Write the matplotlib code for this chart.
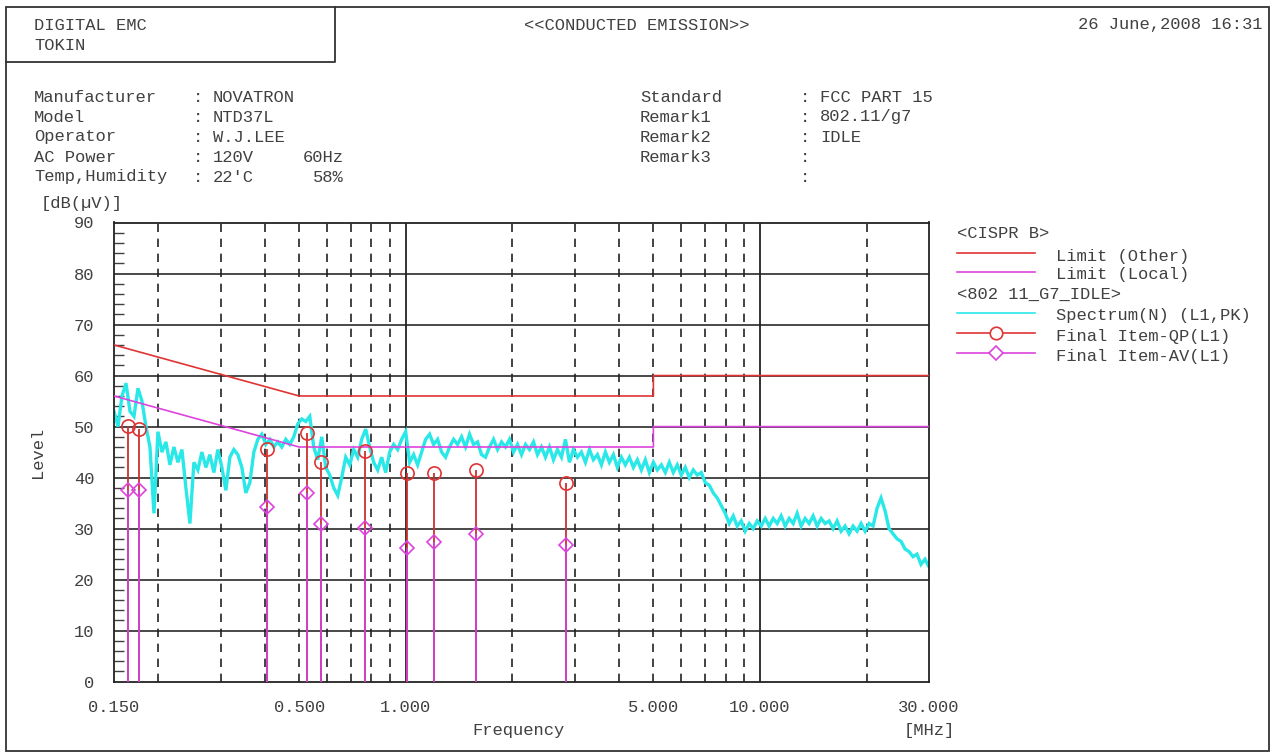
"""Conducted emission plot (FCC part 15, CISPR B limits) redrawn from a
receiver printout: spectrum trace, limit lines and final QP/AV readings.
"""

import numpy as np
import matplotlib
matplotlib.use('Agg')
import matplotlib.pyplot as plt
from matplotlib.lines import Line2D
from matplotlib.patches import Rectangle

# Limit lines (MHz, dBuV).
limit_freq = [0.15, 0.5, 5.0, 5.0, 30.0]
limit_other = [66, 56, 56, 60, 60]
limit_local = [56, 46, 46, 50, 50]

# Final measurements (MHz, dBuV).
final_freq = [0.164, 0.176, 0.406, 0.525, 0.578, 0.769, 1.008, 1.200, 1.580, 2.830]
final_qp = [50.1, 49.5, 45.6, 48.8, 43.0, 45.3, 40.9, 40.9, 41.4, 38.9]
final_av = [37.6, 37.6, 34.3, 36.9, 30.9, 30.1, 26.3, 27.4, 28.9, 26.8]

# Peak spectrum (205 points, log spaced 0.15 - 30 MHz).
spectrum_level = [
    53, 50, 56, 58.5, 53, 52, 57.5, 55, 50, 46,
    33, 49, 45, 47, 42.5, 46, 43, 45.5, 38, 31,
    43, 41.5, 45, 42, 44.5, 41, 45.5, 42, 37.5, 44,
    45.5, 44.5, 42, 37, 39, 45, 47.5, 48.5, 46.5, 47.5,
    46, 47, 46, 47.5, 46.5, 48, 50.5, 51.5, 51, 52,
    46, 43.5, 48, 42, 40.5, 38, 36.5, 40, 44, 42.5,
    45.5, 44, 47.5, 49.5, 46, 43, 41.5, 44, 41, 45,
    46.5, 45.5, 47.5, 49, 43, 44.5, 42.5, 45, 47.5, 48.5,
    46.5, 47.5, 45, 44, 46, 47.5, 46.5, 48, 46, 48.5,
    46.5, 47, 44.5, 44, 46, 47.5, 45.5, 47, 46, 47.5,
    45, 46.5, 44.5, 46.5, 45.5, 47, 44.5, 46, 44, 46,
    43.5, 45.5, 44, 47.5, 43, 45.5, 44, 45, 43, 45.5,
    43.5, 44.5, 42.5, 45, 43, 44.5, 42, 44, 42.5, 44,
    42, 43.5, 41.5, 43.5, 41, 43, 41.5, 42.5, 41, 43,
    41, 42.5, 40.5, 42, 40, 41.5, 40.5, 41, 39, 38.5,
    37, 36, 34.5, 33, 31, 32.5, 30.5, 31.5, 29.5, 31,
    30, 31.5, 30.5, 32, 30.5, 32, 31, 32.5, 30.5, 32,
    31, 33, 30.5, 32, 31, 32.5, 30.5, 32, 31, 31.5,
    30, 31.5, 29.5, 30.5, 29, 30.5, 29.5, 31, 29.5, 31,
    30.5, 34, 36, 33.5, 30, 29, 28, 27.5, 26, 25.5,
    24.5, 25, 23, 24, 22.5,
]
spectrum_freq = np.geomspace(0.15, 30.0, len(spectrum_level))

# Header and legend text.
info_left = [('Manufacturer', 'NOVATRON'), ('Model', 'NTD37L'),
             ('Operator', 'W.J.LEE'), ('AC Power', '120V'),
             ('Temp,Humidity', "22'C")]
info_right = [('Standard', 'FCC PART 15'), ('Remark1', '802.11/g7'),
              ('Remark2', 'IDLE'), ('Remark3', ''), ('', '')]
y_ticks = [0, 10, 20, 30, 40, 50, 60, 70, 80, 90]
x_ticks = [0.15, 0.5, 1.0, 5.0, 10.0, 30.0]
x_ticklabels = ['0.150', '0.500', '1.000', '5.000', '10.000', '30.000']
dashed_freqs = [0.2, 0.3, 0.4, 0.5, 0.6, 0.7, 0.8, 0.9,
                2, 3, 4, 5, 6, 7, 8, 9, 20]

RED = '#e03434'
MAGENTA = '#dd44dd'
CYAN = '#2ae8e8'
TXT = '#404040'
W, H = 1274, 756


def fx(px):
    return px / W


def fy(py):
    return 1 - py / H


plt.rcParams['font.family'] = ['Liberation Mono', 'DejaVu Sans Mono']
plt.rcParams['font.size'] = 12.3

fig = plt.figure(figsize=(12.74, 7.56), dpi=100)
ax = fig.add_axes([fx(114), fy(681.7), fx(929) - fx(114),
                   fy(222.5) - fy(681.7)])

# Grid.
for y in y_ticks[1:-1]:
    ax.axhline(y, color='#3a3a3a', lw=1.3, zorder=1)
for f in dashed_freqs:
    ax.axvline(f, color='#222222', lw=1.2, ls=(0, (5, 4)), zorder=1)
for f in [1.0, 10.0]:
    ax.axvline(f, color='#222222', lw=1.3, zorder=1)

# Traces.
ax.plot(spectrum_freq, spectrum_level, color=CYAN, lw=2.4, zorder=2,
        solid_joinstyle='miter')
ax.plot(limit_freq, limit_other, color=RED, lw=1.2, zorder=3)
ax.plot(limit_freq, limit_local, color=MAGENTA, lw=1.2, zorder=3)

ax.vlines(final_freq, 0, final_qp, color='#cc3030', lw=1.3, zorder=4)
ax.vlines(final_freq, 0, final_av, color='#d040d0', lw=1.3, zorder=5)
ax.plot(final_freq, final_qp, 'o', ms=9.5, mfc='none', mec=RED, mew=1.2,
        zorder=6)
ax.plot(final_freq, final_av, 'D', ms=7.5, mfc='none', mec=MAGENTA,
        mew=1.2, zorder=6)

ax.set_xscale('log')
ax.set_xlim(0.15, 30)
ax.set_ylim(0, 90)
ax.set_xticks(x_ticks)
ax.set_xticklabels(x_ticklabels)
ax.xaxis.set_minor_locator(matplotlib.ticker.NullLocator())
ax.set_yticks(y_ticks)
ax.set_yticks(np.arange(0, 91, 2), minor=True)
ax.tick_params(axis='x', length=0, pad=13, colors=TXT)
ax.tick_params(axis='y', which='both', direction='in', length=7,
               width=1.0, pad=14, colors=TXT)
ax.tick_params(axis='y', which='major', length=0)
for s in ax.spines.values():
    s.set_color('#222222')
    s.set_linewidth(1.3)

# Axis titles.
fig.text(fx(518), fy(731), 'Frequency', ha='center', va='center', color=TXT)
fig.text(fx(929), fy(731), '[MHz]', ha='center', va='center', color=TXT)
fig.text(fx(38), fy(452), 'Level', ha='center', va='center', rotation=90,
         color=TXT)
fig.text(fx(82), fy(203), '[dB(µV)]', ha='center', va='center', color=TXT)

# Frame and header box.
fig.add_artist(Rectangle((fx(6), fy(751)), fx(1269) - fx(6),
                         fy(7) - fy(751), fill=False, ec='#333333', lw=1.3,
                         transform=fig.transFigure))
fig.add_artist(Line2D([fx(6), fx(335), fx(335)], [fy(62), fy(62), fy(7)],
                      color='#333333', lw=1.3, transform=fig.transFigure))

fig.text(fx(34), fy(25), 'DIGITAL EMC', va='center', color=TXT)
fig.text(fx(34), fy(45), 'TOKIN', va='center', color=TXT)
fig.text(fx(637), fy(25), '<<CONDUCTED EMISSION>>', ha='center',
         va='center', color=TXT)
fig.text(fx(1263), fy(25), '26 June,2008 16:31', ha='right', va='center',
         color=TXT)

for i, (name, value) in enumerate(info_left):
    y = fy(97 + 20 * i)
    fig.text(fx(34), y, name, va='center', color=TXT)
    fig.text(fx(193), y, ':', va='center', color=TXT)
    fig.text(fx(213), y, value, va='center', color=TXT)
fig.text(fx(303), fy(157), '60Hz', va='center', color=TXT)
fig.text(fx(313), fy(177), '58%', va='center', color=TXT)

for i, (name, value) in enumerate(info_right):
    y = fy(97 + 20 * i)
    fig.text(fx(640), y, name, va='center', color=TXT)
    fig.text(fx(800), y, ':', va='center', color=TXT)
    fig.text(fx(820), y, value, va='center', color=TXT)

# Legend, drawn by hand to match the printout layout.
legend_rows = [
    (233, None, '<CISPR B>'),
    (256, (RED, None), 'Limit (Other)'),
    (275, (MAGENTA, None), 'Limit (Local)'),
    (294, None, '<802 11_G7_IDLE>'),
    (316, (CYAN, None), 'Spectrum(N) (L1,PK)'),
    (336, (RED, 'o'), 'Final Item-QP(L1)'),
    (356, (MAGENTA, 'D'), 'Final Item-AV(L1)'),
]
for py, style, label in legend_rows:
    if style is None:
        fig.text(fx(957), fy(py), label, va='center', color=TXT)
        continue
    color, marker = style
    ly = fy(py - 3)
    fig.add_artist(Line2D([fx(957), fx(1035)], [ly, ly], color=color,
                          lw=1.2, transform=fig.transFigure))
    if marker:
        fig.add_artist(Line2D([fx(996)], [ly], marker=marker,
                              ms=9 if marker == 'o' else 7.5, mfc='white',
                              mec=color, mew=1.2,
                              transform=fig.transFigure))
    fig.text(fx(1056), fy(py), label, va='center', color=TXT)

fig.savefig('out.png', dpi=100, facecolor='white')
